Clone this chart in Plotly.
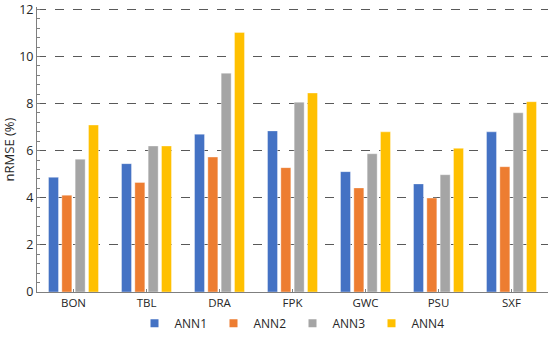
import plotly.graph_objects as go

categories = ["BON", "TBL", "DRA", "FPK", "GWC", "PSU", "SXF"]
ann1 = [4.87, 5.45, 6.70, 6.84, 5.11, 4.59, 6.80]
ann2 = [4.11, 4.65, 5.73, 5.28, 4.42, 3.99, 5.32]
ann3 = [5.64, 6.20, 9.29, 8.06, 5.87, 4.98, 7.61]
ann4 = [7.09, 6.20, 11.02, 8.45, 6.80, 6.10, 8.08]
series_names = ["ANN1", "ANN2", "ANN3", "ANN4"]
series_values = [ann1, ann2, ann3, ann4]
y_tick_values = [0, 2, 4, 6, 8, 10, 12]
colors = ["#4472C4", "#ED7D31", "#A5A5A5", "#FFC000"]

fig = go.Figure()
for name, vals, col in zip(series_names, series_values, colors):
    fig.add_trace(go.Bar(
        x=categories, y=vals, name=name, showlegend=False,
        marker=dict(color=col, line=dict(color="rgba(255,255,255,0.6)", width=0.6)),
    ))
# legend entries with small square symbols
for name, col in zip(series_names, colors):
    fig.add_trace(go.Scatter(
        x=[None], y=[None], mode="markers", name=name,
        marker=dict(symbol="square", size=8, color=col),
    ))

font_family = "'Open Sans', Lato, sans-serif"
fig.update_layout(
    width=550, height=345,
    margin=dict(l=37, r=2, t=7, b=53),
    paper_bgcolor="white", plot_bgcolor="white",
    barmode="group", bargap=0.27, bargroupgap=0.25,
    font=dict(family=font_family, size=12, color="#404040"),
    showlegend=True,
    legend=dict(orientation="h", x=0.5, xanchor="center", y=-0.11, yanchor="middle",
                font=dict(size=12, color="#262626"), entrywidth=34, itemwidth=30,
                traceorder="normal"),
    xaxis=dict(
        showline=True, linecolor="#7F7F7F", linewidth=1,
        ticks="inside", ticklen=3, tickcolor="#7F7F7F",
        tickfont=dict(size=11.5, color="#262626"),
        showgrid=False, zeroline=False,
    ),
    yaxis=dict(
        range=[0, 12.1], tickmode="array", tickvals=y_tick_values,
        automargin=False, ticklabeloverflow="allow",
        showline=True, linecolor="#7F7F7F", linewidth=1,
        ticks="inside", ticklen=3, tickcolor="#7F7F7F",
        tickfont=dict(size=12.5, color="#262626"),
        showgrid=True, gridcolor="#595959", griddash="dash", gridwidth=1,
        zeroline=False,
        minor=dict(dtick=0.4, tick0=0, ticks="inside", ticklen=3, tickcolor="#7F7F7F", showgrid=False),
        title=dict(text="nRMSE (%)", font=dict(size=13, color="#262626"), standoff=5),
    ),
)

fig.write_html("out.html", config={"displayModeBar": False},
               post_script="document.body.style.margin='0';document.body.style.overflow='hidden';")
